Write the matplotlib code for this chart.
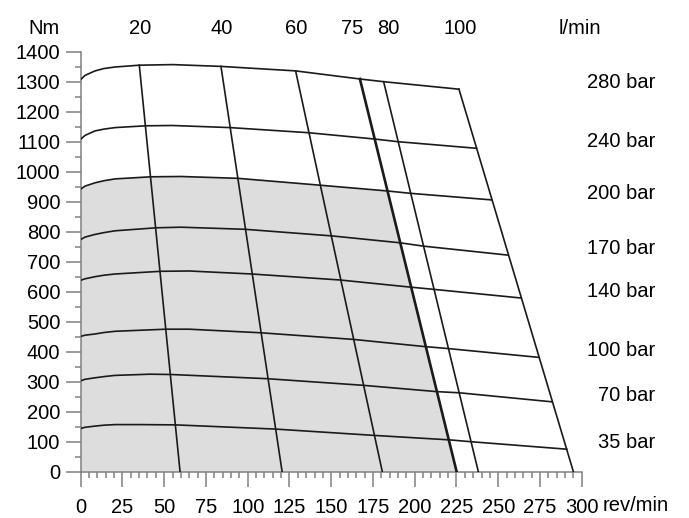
import matplotlib.pyplot as plt
from matplotlib.ticker import MultipleLocator

plt.rcParams['font.family'] = ['Liberation Sans', 'DejaVu Sans']

# pressure curves: speed (rev/min) vs torque (Nm)
pressures = ['280 bar', '240 bar', '200 bar', '170 bar', '140 bar', '100 bar', '70 bar', '35 bar']
speeds = [
    [0, 2.6, 8.6, 14, 20.6, 35.1, 55, 84, 128.7, 167.2, 181.4, 226.5],
    [0, 2.6, 8.6, 14, 20.6, 39, 55, 89.4, 136.3, 175.8, 190, 237],
    [0, 2.6, 8.6, 14, 20.6, 42, 60, 93.8, 143.3, 183.2, 197.2, 246],
    [0, 2.6, 8.6, 14, 20.6, 45.3, 60, 98.4, 150.3, 191.2, 205, 255.7],
    [0, 2.6, 8.6, 14, 20.6, 48, 65, 102.4, 155.3, 197.8, 211, 263.6],
    [0, 2.6, 8.6, 14, 20.6, 51, 65, 108, 163.2, 206, 219, 274.4],
    [0, 2.6, 8.6, 14, 20.6, 41.5, 54, 111.7, 169, 213, 226.7, 282],
    [0, 2.6, 8.6, 14, 20.6, 35.5, 57, 116.8, 175.6, 221, 233.5, 291],
]
torques = [
    [1307, 1321, 1336, 1344, 1349, 1355, 1357, 1351, 1336, 1309, 1300, 1275],
    [1108, 1121, 1136, 1142, 1147, 1153, 1154, 1147, 1130, 1109, 1100, 1078],
    [942, 952, 963, 970, 976, 983, 984, 978, 955, 936, 928, 906],
    [774, 782, 791, 797, 803, 813, 815, 808, 786, 763, 752, 722],
    [638, 643, 650, 655, 659, 668, 669, 659, 639, 615, 608, 579],
    [451, 455, 459, 464, 468, 475, 475, 463, 441, 417, 411, 381],
    [303, 308, 313, 317, 321, 325, 324, 310, 288, 267, 263, 233],
    [144, 148, 152, 155, 157, 157, 156, 142, 121, 106, 100, 75],
]

# flow lines (l/min): top end on the 280 bar curve, bottom end at zero torque
flows = ['20', '40', '60', '75', '80', '100']
flow_top_speed = [35.1, 84, 128.7, 167.2, 181.4, 226.5]
flow_top_torque = [1355, 1351, 1336, 1309, 1300, 1275]
flow_bottom_speed = [59.5, 120.6, 180.6, 225.1, 238.1, 295]

line_color = '#1a1a1a'
fs = 14.5
fig = plt.figure(figsize=(6.89, 5.18), dpi=100)
ax = fig.add_axes([0.1171, 0.0894, 0.7272, 0.8108])

# shaded continuous-duty area: below 200 bar and left of 75 l/min
i200 = pressures.index('200 bar')
i75 = flows.index('75')
cut = speeds[i200].index(183.2) + 1
poly_x = [0] + speeds[i200][:cut] + [flow_bottom_speed[i75]]
poly_y = [0] + torques[i200][:cut] + [0]
ax.fill(poly_x, poly_y, color='#dddddd', lw=0, zorder=1)

for name, xs, ys in zip(pressures, speeds, torques):
    ax.plot(xs, ys, color=line_color, lw=1.2, zorder=3, solid_joinstyle='round')
    ax.text(344, ys[-1] + 22, name, ha='right', va='center', fontsize=fs, clip_on=False)

for name, xt, yt, xb in zip(flows, flow_top_speed, flow_top_torque, flow_bottom_speed):
    lw = 1.9 if name == '75' else 1.2
    ax.plot([xt, xb], [yt, 0], color=line_color, lw=lw, zorder=3)
    shift = {'75': -4.5, '80': 3}.get(name, 0.5)
    ax.text(xt + shift, 1476, name, ha='center', va='center', fontsize=fs, clip_on=False)

ax.text(299, 1476, 'l/min', ha='center', va='center', fontsize=fs, clip_on=False)
ax.text(-22, 1476, 'Nm', ha='center', va='center', fontsize=fs, clip_on=False)
ax.text(312.5, -113, 'rev/min', ha='left', va='center', fontsize=fs, clip_on=False)

ax.set_xlim(0, 300)
ax.set_ylim(0, 1400)
ax.xaxis.set_major_locator(MultipleLocator(25))
ax.xaxis.set_minor_locator(MultipleLocator(5))
ax.yaxis.set_major_locator(MultipleLocator(100))
ax.yaxis.set_minor_locator(MultipleLocator(50))

for side in ['top', 'right']:
    ax.spines[side].set_visible(False)
for side in ['left', 'bottom']:
    ax.spines[side].set_color('#808080')
    ax.spines[side].set_linewidth(1.1)

ax.tick_params(which='major', length=10.8, width=1.1, color='#808080', labelsize=fs)
ax.tick_params(which='minor', length=4.5, width=1.1, color='#808080')
ax.tick_params(axis='y', which='major', pad=4)
ax.tick_params(axis='x', which='major', pad=8)

fig.savefig('out.png', dpi=100)
